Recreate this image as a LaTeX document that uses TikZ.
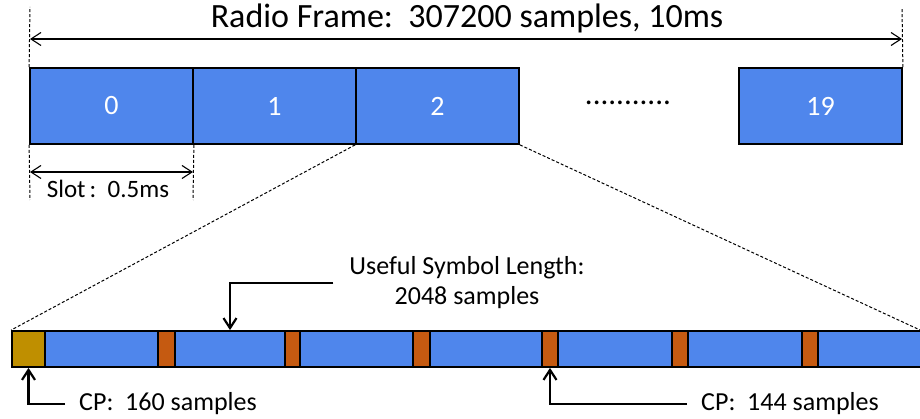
\documentclass[tikz,border=0pt]{standalone}
\usepackage{fontspec}
\setmainfont{Carlito}
\usetikzlibrary{positioning, arrows.meta, calc}
\definecolor{symblue}{HTML}{4F86EC}
\definecolor{cpred}{HTML}{C55A11}
\definecolor{cpgold}{HTML}{BF8F00}

\begin{document}
\begin{tikzpicture}[
  x=1pt, y=-1pt,
  >={Straight Barb[length=10pt,width=13pt]},
  slotbox/.style = {draw=black, line width=1.8pt, fill=symblue, text=white, inner sep=0pt,
                    minimum width=163pt, minimum height=76pt, font=\fontsize{28}{30}\selectfont},
  seg/.style     = {draw=black, line width=1.8pt, inner sep=0pt, minimum height=36pt},
  lbl/.style     = {inner sep=0pt, font=\fontsize{26}{30}\selectfont},
  dim/.style     = {<->, line width=1.1pt},
  guide/.style   = {line width=1pt, dash pattern=on 3pt off 2pt},
  pointer/.style = {->, line width=2.2pt},
]
  \useasboundingbox (0,0) rectangle (920,419);
  % radio frame, top row
  \node[slotbox] (s0)  at (111.5,106) {0};
  \node[slotbox] (s1)  at (274.5,106) {1};
  \node[slotbox] (s2)  at (437.5,106) {2};
  \node[slotbox] (s19) at (820.5,106) {19};
  \node[inner sep=0pt, font=\fontsize{31}{32}\selectfont] (dots) at (628,103) {...........};
  \node[inner sep=0pt, font=\fontsize{34}{36}\selectfont] (title) at (467,18) {Radio Frame:\ \ 307200 samples, 10ms};
  \coordinate (ftl) at (30,7);
  \coordinate (ftr) at (902,9);
  \coordinate (fal) at (30,39);
  \coordinate (far) at (902,39);
  \draw[guide] (s0.north west) -- (ftl);
  \draw[guide] (s19.north east) -- (ftr);
  \draw[dim] (fal) -- (far);
  % slot length
  \coordinate (sbl) at (30,200);
  \coordinate (sbr) at (193,200);
  \coordinate (sal) at (30,172);
  \coordinate (sar) at (193,172);
  \draw[guide] (s0.south west) -- (sbl);
  \draw[guide] (s0.south east) -- (sbr);
  \draw[dim] (sal) -- (sar);
  \node[inner sep=0pt, font=\fontsize{25}{28}\selectfont] (slotlbl) at (108,189) {Slot\,:\ \ 0.5ms};
  % one slot, 14 symbols
  \node[seg, fill=cpgold, minimum width=33pt] (cp0) at (28.5,349) {};
  \foreach \n/\l/\r/\f in {sym1/45/158/symblue, cp1/158/175/cpred, sym2/175/285/symblue, cp2/285/300/cpred,
                           sym3/300/413/symblue, cp3/413/430/cpred, sym4/430/542/symblue, cp4/542/558/cpred,
                           sym5/558/672/symblue, cp5/672/688/cpred, sym6/688/802/symblue, cp6/802/818/cpred,
                           sym7/818/926/symblue}
    \node[seg, fill=\f, minimum width={(\r-\l)*1pt}] (\n) at ({(\l+\r)/2},349) {};
  \coordinate (zr) at (920,330);
  \draw[guide] (s2.south west) -- (cp0.north west);
  \draw[guide] (s2.south east) -- (zr);
  % labels
  \node[lbl, align=center] (useful) at (467,283) {Useful Symbol Length:\\2048 samples};
  \node[lbl, anchor=west, inner xsep=14pt] (cp160) at (65,404) {CP:\ \ 160 samples};
  \node[lbl, anchor=west, inner xsep=14pt] (cp144) at (687,404) {CP:\ \ 144 samples};
  \draw[pointer] ($(useful.west)+(-16,0)$) -| (sym2.north);
  \draw[pointer] (cp160.west) -| (cp0.south);
  \draw[pointer] (cp144.west) -| (cp4.south);
\end{tikzpicture}
\end{document}
